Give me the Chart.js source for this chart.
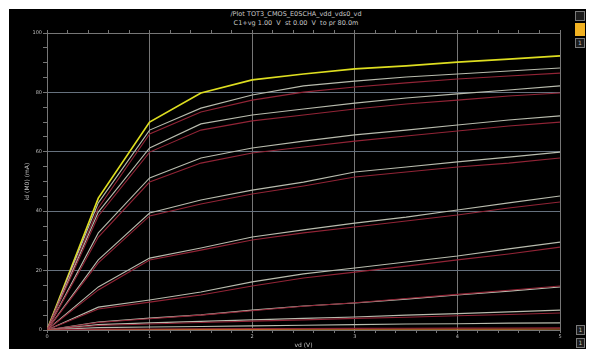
<!DOCTYPE html>
<html>
<head>
<meta charset="utf-8">
<script src="https://cdn.jsdelivr.net/npm/chart.js@4.4.1/dist/chart.umd.min.js"></script>
<style>
  html, body { margin: 0; padding: 0; background: #ffffff; }
  #wrap { position: relative; width: 592px; height: 354px; overflow: hidden; background: #ffffff; }
  #bg { position: absolute; left: 9px; top: 9px; width: 577px; height: 340px; background: #000000; }
  #c { position: absolute; left: 0; top: 0; }
  .t { position: absolute; left: 0; width: 592px; text-align: center; color: #c8c8c8;
       font-family: "DejaVu Sans", sans-serif; font-size: 6.5px; line-height: 8px; white-space: pre; }
  .w { position: absolute; box-sizing: border-box; border: 1px solid #7a7a7a; background: #1c1c1c;
       color: #bdbdbd; font-family: "DejaVu Sans", sans-serif; font-size: 6px; line-height: 8px; text-align: center; }
</style>
</head>
<body>
<div id="wrap">
  <div id="bg"></div>
  <div class="t" style="top:10px;">/Plot TOT3_CMOS_E0SCHA_vdd_vds0_vd</div>
  <div class="t" style="top:19px;">C1+vg 1.00  V  st 0.00  V  to pr 80.0m</div>
  <div class="w" style="left:575px; top:11px; width:10px; height:10px;"></div>
  <div class="w" style="left:575px; top:23px; width:10px; height:13px; background:#f2b222; border-color:#f2b222;"></div>
  <div class="w" style="left:575px; top:38px; width:10px; height:10px;">1</div>
  <div class="w" style="left:576px; top:325px; width:9px; height:10px;">1</div>
  <div class="w" style="left:576px; top:338px; width:9px; height:10px;">1</div>
  <canvas id="c" width="592" height="354"></canvas>
</div>
<script>
// ---- data ----
const vd      = [0, 0.5, 1.0, 1.5, 2.0, 2.5, 3.0, 3.5, 4.0, 4.5, 5.0];
const xTicks  = ['0', '1', '2', '3', '4', '5'];
const yTicks  = ['0', '20', '40', '60', '80', '100'];

const idTop   = [0, 44.4, 70.0, 79.8, 84.2, 86.2, 87.9, 88.9, 90.2, 91.2, 92.3];
const idW1    = [0, 42.8, 67.3, 74.7, 79.1, 82.2, 83.8, 85.2, 86.2, 87.2, 88.2];
const idR1    = [0, 41.1, 66.0, 73.4, 77.4, 80.1, 81.8, 83.2, 84.5, 85.5, 86.5];
const idW2    = [0, 39.7, 61.3, 69.4, 72.4, 74.4, 76.4, 78.1, 79.5, 80.8, 82.2];
const idR2    = [0, 38.4, 59.9, 67.3, 70.4, 72.4, 74.4, 76.1, 77.4, 78.8, 79.8];
const idW3    = [0, 32.7, 51.2, 57.9, 61.3, 63.6, 65.7, 67.3, 69.0, 70.7, 72.1];
const idR3    = [0, 31.3, 49.8, 56.2, 59.6, 61.6, 63.6, 65.3, 67.0, 68.7, 70.0];
const idW4    = [0, 23.6, 39.4, 43.8, 47.1, 49.8, 53.2, 54.9, 56.6, 58.2, 59.9];
const idR4    = [0, 22.6, 38.4, 42.4, 45.8, 48.5, 51.5, 53.2, 54.9, 56.2, 57.9];
const idW5    = [0, 14.5, 24.2, 27.6, 31.3, 33.7, 36.0, 38.0, 40.4, 42.8, 45.1];
const idR5    = [0, 13.5, 23.6, 26.9, 30.3, 32.7, 34.7, 36.7, 38.7, 41.1, 43.1];
const idW6    = [0, 7.7, 10.1, 12.8, 16.2, 18.9, 20.9, 22.9, 24.9, 27.3, 29.6];
const idR6    = [0, 7.1, 9.4, 11.8, 14.8, 17.5, 19.5, 21.5, 23.6, 25.6, 27.9];
const idW7    = [0, 2.7, 4.0, 5.1, 6.7, 8.1, 9.1, 10.4, 11.8, 13.1, 14.5];
const idR7    = [0, 2.5, 3.8, 5.0, 6.5, 8.0, 9.2, 10.6, 12.0, 13.4, 14.8];
const idW8    = [0, 1.8, 2.4, 2.9, 3.4, 3.9, 4.4, 5.0, 5.5, 6.1, 6.7];
const idR8    = [0, 1.5, 2.0, 2.5, 3.0, 3.4, 3.9, 4.3, 4.8, 5.2, 5.7];
const idW9    = [0, 0.8, 1.0, 1.2, 1.4, 1.6, 1.8, 2.0, 2.1, 2.3, 2.4];
const idR9    = [0, 0.3, 0.35, 0.4, 0.45, 0.5, 0.55, 0.6, 0.62, 0.66, 0.7];
const idLow   = [0, 0.15, 0.18, 0.2, 0.22, 0.24, 0.26, 0.28, 0.3, 0.31, 0.32];

// ---- styling ----
const WHITE = '#b9bcae', RED = '#922436', YELLOW = '#dede20', ORANGE = '#c87a28';
const series = [
  [idR9, RED], [idLow, ORANGE], [idW9, WHITE],
  [idR8, RED], [idW8, WHITE],
  [idR7, RED], [idW7, WHITE],
  [idR6, RED], [idW6, WHITE],
  [idR5, RED], [idW5, WHITE],
  [idR4, RED], [idW4, WHITE],
  [idR3, RED], [idW3, WHITE],
  [idR2, RED], [idW2, WHITE],
  [idR1, RED], [idW1, WHITE],
  [idTop, YELLOW]
];
const datasets = series.map(([arr, col]) => ({
  data: vd.map((x, i) => ({ x: x, y: arr[i] })),
  borderColor: col,
  borderWidth: col === YELLOW ? 1.7 : 1.1,
  pointRadius: 0,
  tension: 0,
  fill: false
}));

const GRID = '#767676', GRIDH = '#66717e', FONT = { family: 'DejaVu Sans', size: 5 };
const isMajorX = v => Math.abs(v - Math.round(v)) < 1e-6;
const isMajorY = v => Math.abs(v / 20 - Math.round(v / 20)) < 1e-6;

new Chart(document.getElementById('c'), {
  type: 'line',
  data: { datasets: datasets },
  options: {
    responsive: false,
    animation: false,
    devicePixelRatio: 1,
    layout: { padding: { left: 21, right: 32, top: 30, bottom: 0 } },
    plugins: { legend: { display: false }, tooltip: { enabled: false }, title: { display: false } },
    scales: {
      x: {
        type: 'linear', position: 'bottom', min: 0, max: 5,
        afterFit: s => { s.height = 24; },
        afterBuildTicks: s => { const t = []; for (let i = 0; i <= 25; i++) t.push({ value: i * 0.2 }); s.ticks = t; },
        ticks: { color: '#bdbdbd', font: FONT, padding: 1, maxRotation: 0, autoSkip: false,
                 callback: v => isMajorX(v) ? xTicks[Math.round(v)] : '' },
        grid: { color: c => isMajorX(c.tick.value) ? GRID : 'rgba(0,0,0,0)',
                tickColor: GRID, tickLength: 3, lineWidth: 1 },
        border: { color: GRID, width: 1 },
        title: { display: true, text: 'vd (V)', color: '#c4c4c4', font: { family: 'DejaVu Sans', size: 6 },
                 padding: { top: 0, bottom: 5 } }
      },
      xTop: {
        type: 'linear', position: 'top', min: 0, max: 5,
        afterFit: s => { s.height = 3; },
        afterBuildTicks: s => { const t = []; for (let i = 0; i <= 25; i++) t.push({ value: i * 0.2 }); s.ticks = t; },
        ticks: { display: false },
        grid: { drawOnChartArea: false, tickColor: GRID, tickLength: 3 },
        border: { color: GRID, width: 1 }
      },
      y: {
        type: 'linear', position: 'left', min: 0, max: 100,
        afterFit: s => { s.width = 26; },
        afterBuildTicks: s => { const t = []; for (let i = 0; i <= 20; i++) t.push({ value: i * 5 }); s.ticks = t; },
        ticks: { color: '#bdbdbd', font: FONT, padding: 1, autoSkip: false,
                 callback: v => isMajorY(v) ? yTicks[Math.round(v / 20)] : '' },
        grid: { color: c => isMajorY(c.tick.value) ? GRIDH : 'rgba(0,0,0,0)',
                tickColor: GRID, tickLength: 4, lineWidth: 1 },
        border: { color: GRID, width: 1 },
        title: { display: true, text: 'id (M0) (mA)', color: '#c4c4c4', font: { family: 'DejaVu Sans', size: 6 },
                 padding: { top: 3, bottom: 0 } }
      },
      yRight: {
        type: 'linear', position: 'right', min: 0, max: 100,
        afterFit: s => { s.width = 0; },
        ticks: { display: false },
        grid: { drawOnChartArea: false, drawTicks: false },
        border: { color: GRID, width: 1 }
      }
    }
  }
});
</script>
</body>
</html>
